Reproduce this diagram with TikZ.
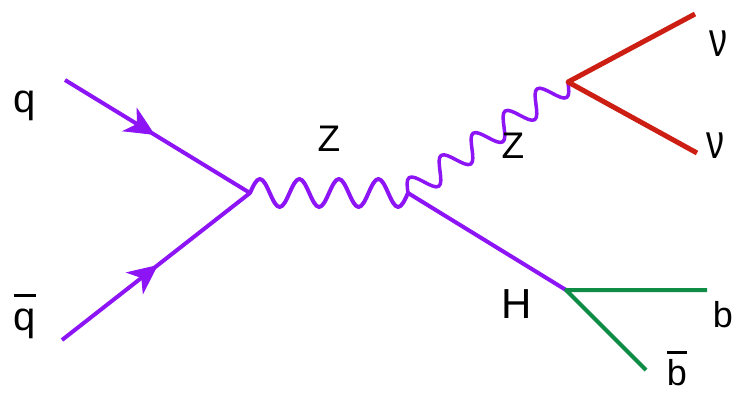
\documentclass[tikz,border=0pt]{standalone}
\usepackage{fontspec}
\setmainfont{Liberation Sans}
\usepackage{graphicx}
\usetikzlibrary{decorations.markings,arrows.meta}
\definecolor{fpurple}{RGB}{140,20,245}
\definecolor{fred}{RGB}{205,30,20}
\definecolor{fgreen}{RGB}{15,140,70}
\newcommand{\ovbar}[2]{\leavevmode\vbox{\hrule height 3pt\kern#1\hbox{#2}}}
\begin{document}
\begin{tikzpicture}[x=1pt,y=-1pt,
  fermion/.style={draw=fpurple, fill=fpurple, line width=4pt, postaction={decorate},
    decoration={markings, mark=at position #1 with {\arrow[line width=1pt]{Stealth[length=30pt,width=28pt,inset=9pt]}}}},
  scalar/.style={draw=fpurple, line width=4pt},
  boson/.style={draw=fpurple, line width=#1, line join=round, line cap=round},
  neutrino/.style={draw=fred, line width=5pt},
  bquark/.style={draw=fgreen, line width=4pt},
  lbl/.style={inner sep=0pt, anchor=base, text=black}]
\useasboundingbox (0,0) rectangle (742,393);
% vertices and end points
\coordinate (qin) at (65,80);
\coordinate (qbin) at (62,340);
\coordinate (v1) at (250,193);
\coordinate (v2) at (408,193);
\coordinate (zv) at (568,82);
\coordinate (hv) at (566,290);
\coordinate (n1) at (695,14);
\coordinate (n2) at (697,153);
\coordinate (b1) at (707,290);
\coordinate (b2) at (646,370);
% lines
\draw[fermion=0.486] (qin) -- (v1);
\draw[fermion=0.51] (qbin) -- (v1);
% Z propagator (4 periods from v1 to v2)
\draw[boson=4pt] (v1) \foreach \i in {1,...,4} {
  sin ++(9.875,-14) cos ++(9.875,14) sin ++(9.875,14) cos ++(9.875,-14) };
% Z decaying to neutrinos (5 periods from v2 to zv)
\begin{scope}[rotate around={34.75:(v2)}]
\draw[boson=3.5pt] (v2) \foreach \i in {1,...,5} {
  sin ++(9.735,-12) cos ++(9.735,12) sin ++(9.735,12) cos ++(9.735,-12) };
\end{scope}
\draw[scalar] (v2) -- (hv);
\draw[neutrino, line join=round] (n1) -- (zv) -- (n2);
\draw[bquark, line join=round] (b1) -- (hv) -- (b2);
% labels
\node[lbl, font=\fontsize{40}{40}\selectfont] (lq) at (25,113) {q};
\node[lbl, font=\fontsize{40}{40}\selectfont] (lqb) at (25,330) {\ovbar{11pt}{q}};
\node[lbl, font=\fontsize{37}{37}\selectfont] (lz1) at (329,152) {Z};
\node[lbl, font=\fontsize{37}{37}\selectfont] (lz2) at (513,159) {Z};
\node[lbl, font=\fontsize{36}{36}\selectfont] (ln1) at (718,57) {\scalebox{1}[1.35]{ν}};
\node[lbl, font=\fontsize{36}{36}\selectfont] (ln2) at (715,159) {\scalebox{1}[1.35]{ν}};
\node[lbl, font=\fontsize{42}{42}\selectfont] (lh) at (517,318) {H};
\node[lbl, font=\fontsize{36}{36}\selectfont] (lb) at (723,327) {b};
\node[lbl, font=\fontsize{36}{36}\selectfont] (lbb) at (677,385) {\ovbar{5pt}{b}};
\end{tikzpicture}
\end{document}
